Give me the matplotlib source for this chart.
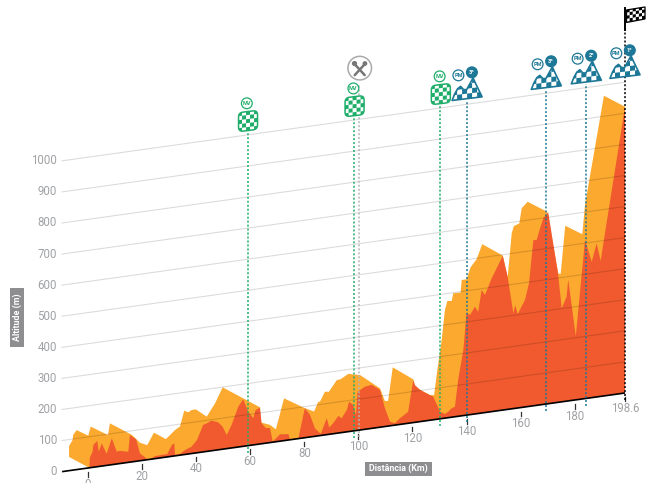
import matplotlib
matplotlib.use("Agg")
import numpy as np
from matplotlib import pyplot as plt
from matplotlib.patches import Circle, FancyBboxPatch, Polygon, Rectangle
from matplotlib.transforms import Affine2D

plt.rcParams['font.family'] = ['Roboto', 'DejaVu Sans']

# front profile (km, metres)
front_km = [0.5, 0.7, 1.7, 2.0, 3.4, 4.0, 5.1, 6.9, 8.8, 10.6, 11.8, 14.9, 15.5, 17.8, 19.2, 21.9, 22.9, 24.8, 27.3,
            29.3, 31.0, 31.9, 32.2, 34.0, 35.9, 38.3, 40.3, 42.6, 43.9, 45.7, 48.2, 49.8, 51.3, 53.1, 55.6, 57.4,
            59.3, 61.1, 62.0, 63.6, 64.2, 65.8, 67.3, 68.3, 71.0, 74.1, 74.7, 77.8, 80.2, 82.1, 83.9, 86.1, 88.3,
            89.2, 90.7, 92.6, 93.8, 95.7, 96.6, 98.1, 99.1, 99.7, 102.4, 104.9, 108.0, 109.8, 111.7, 113.5, 115.4,
            118.4, 120.3, 120.9, 122.8, 125.2, 127.7, 130.2, 132.0, 133.2, 134.5, 135.7, 136.9, 138.8, 140.0, 141.3,
            143.1, 144.3, 145.6, 146.8, 149.3, 153.4, 155.2, 157.3, 158.0, 158.9, 161.6, 163.1, 164.7, 165.9, 167.4,
            168.4, 170.2, 173.8, 175.2, 177.0, 177.6, 180.4, 183.8, 186.3, 188.1, 189.6, 190.8, 198.6]
front_alt = [0, 33, 50, 72, 83, 48, 73, 37, 85, 40, 41, 34, 87, 71, 24, 2, 0, 8, 9,
             9, 36, 41, 3, 4, 14, 22, 41, 87, 90, 97, 88, 72, 44, 74, 130, 151,
             109, 86, 111, 117, 66, 48, 47, 2, 22, 19, 2, 1, 95, 71, 26, 5, 53,
             22, 34, 55, 46, 70, 96, 83, 50, 124, 137, 140, 120, 59, 13, 6, 20,
             37, 137, 120, 102, 88, 74, 23, 13, 19, 29, 32, 117, 211, 328, 321,
             345, 327, 396, 378, 429, 496, 427, 307, 332, 302, 344, 396, 533, 532, 573,
             599, 616, 416, 301, 336, 390, 205, 510, 437, 494, 436, 502, 921]

# back layer, drawn behind and offset to the left
back_km = [-7.0, -7.0, -5.7, -5.5, -4.2, 0.1, 1.0, 7.4, 8.1, 16.2, 18.2, 19.2, 21.9, 24.4, 28.8, 32.2, 34.0, 35.6, 37.1,
           38.3, 39.9, 43.9, 47.0, 49.8, 63.6, 63.9, 67.3, 69.5, 72.5, 80.2, 83.6, 85.2, 85.8, 87.6, 89.1, 92.0, 93.4,
           96.3, 98.1, 100.6, 108.0, 109.8, 111.0, 112.7, 120.3, 120.9, 123.4, 126.5, 128.0, 129.2, 130.8, 132.0,
           132.9, 134.5, 135.1, 137.8, 138.2, 140.0, 141.5, 143.7, 145.8, 153.4, 155.2, 156.7, 157.5, 159.5, 160.4,
           162.6, 169.8, 173.9, 174.8, 176.5, 182.8, 183.8, 190.8, 198.6]
back_alt = [44, 79, 97, 113, 127, 104, 132, 97, 134, 87, 68, 58, 47, 84, 58, 83, 92, 141, 134,
            140, 140, 112, 151, 199, 118, 69, 57, 40, 136, 95, 80, 110, 109, 139, 137, 171, 172,
            186, 182, 177, 125, 82, 81, 187, 139, 115, 99, 81, 79, 158, 253, 348,
            376, 374, 398, 397, 437, 437, 474, 497, 543, 497, 425, 565, 587, 593, 641,
            659, 618, 415, 412, 565, 530, 623, 966, 921]

km_ticks = [0, 20, 40, 60, 80, 100, 120, 140, 160, 180, 198.6]
km_labels = ['0', '20', '40', '60', '80', '100', '120', '140', '160', '180', '198.6']
alt_ticks = [0, 100, 200, 300, 400, 500, 600, 700, 800, 900, 1000]

# points along the route
mv_km = [59.0, 98.4, 130.3]
meal_km = 100.3
pm_km = [140.2, 169.5, 184.3, 198.6]
pm_cat = ['3ª', '3ª', '2ª', '1ª']
finish_km = 198.6

GREEN = '#1fae6a'
BLUE = '#1d7797'
ORANGE = '#fba92f'
RED = '#f05a2e'
GREY = '#a0a2a5'

fig = plt.figure(figsize=(6.56, 4.83), dpi=100)
ax = fig.add_axes([0, 0, 1, 1])
ax.set_xlim(0, 656)
ax.set_ylim(483, 0)
ax.axis('off')

# oblique projection of (km, altitude) onto the page
skew = Affine2D.from_values(2.704, -0.3777, 0, -0.3108, 88, 468)
proj = skew + ax.transData
km_left = -9.6


def page(km, alt):
    return skew.transform((km, alt))


ax.fill(back_km + [198.6, 0.5], back_alt + [0, 0], color=ORANGE, lw=0, zorder=1, transform=proj)
ax.fill(front_km + [198.6], front_alt + [0], color=RED, lw=0, zorder=2, transform=proj)

for alt in alt_ticks[1:]:
    ax.plot([km_left, 198.6], [alt, alt], color='black', alpha=0.14, lw=0.8, zorder=3, transform=proj)
ax.plot([km_left, 198.6], [0, 0], color='black', lw=1.2, zorder=4, transform=proj, solid_capstyle='butt')

for alt in alt_ticks:
    x, y = page(km_left, alt)
    ax.text(x - 5, y, str(alt), ha='right', va='center', color=GREY, fontsize=8.3)

for km, label in zip(km_ticks, km_labels):
    x, y = page(km, 0)
    ax.plot([x, x], [y + 4, y + 8.5], color='#333333', lw=0.9, zorder=4)
    ax.text(x, y + 16, label, ha='center', va='center', color=GREY, fontsize=8.3)


def drop_line(km, top, color):
    ax.plot([km, km], [-23, top], color=color, lw=1.1, ls=(0, (1.3, 1.3)), zorder=5, transform=proj)


def sheared(cx, cy, s=-0.12):
    return Affine2D.from_values(1, s, 0, 1, cx, cy) + ax.transData


def checks(shape, trans, color, x0, x1, y0, y1, size, zorder=7):
    # squares clipped to the icon outline
    nx = int(np.ceil((x1 - x0) / size))
    ny = int(np.ceil((y1 - y0) / size))
    for i in range(nx):
        for j in range(ny):
            if (i + j) % 2 == 0:
                r = Rectangle((x0 + i * size, y0 + j * size), size, size, fc=color, lw=0, transform=trans, zorder=zorder)
                ax.add_patch(r)
                r.set_clip_path(shape)


def badge(x, y, text, color, filled=False):
    ax.add_patch(Circle((x, y), 5.4, fc=color if filled else 'white', ec=color, lw=0.9, zorder=8))
    ax.text(x, y, text, ha='center', va='center', color='white' if filled else color,
            fontsize=4, fontweight='bold', zorder=9)


for km in mv_km:
    drop_line(km, 1010, GREEN)
    x, y = page(km, 1010)
    trans = sheared(x + 0.5, y - 10.8)
    box = FancyBboxPatch((-9.5, -9.5), 19, 19, boxstyle='round,pad=0,rounding_size=4.5', fc='white', ec=GREEN,
                         lw=1.1, transform=trans, zorder=6)
    ax.add_patch(box)
    checks(box, trans, GREEN, -10, 10, -10, 10, 4)
    badge(x - 0.7, y - 28.5, 'MV', GREEN)

mountain = [(-15, 0), (-12.5, -6), (-9.5, -11), (-6.5, -13), (-3.5, -9.5), (-0.5, -9), (3, -15), (6, -20),
            (9, -13), (15, 0)]
for km, cat in zip(pm_km, pm_cat):
    drop_line(km, 1010 if km != finish_km else 1168, BLUE if km != finish_km else 'black')
    x, y = page(km, 1010)
    trans = sheared(x, y - 2.5)
    shape = Polygon(mountain, closed=True, fc='white', ec=BLUE, lw=1.2, joinstyle='round', transform=trans, zorder=6)
    ax.add_patch(shape)
    checks(shape, trans, BLUE, -15, 15, -20, 0, 5)
    badge(x - 8.7, y - 25.8, 'PM', BLUE)
    badge(x + 4.8, y - 28.8, cat, BLUE, filled=True)

# meal stop
drop_line(meal_km, 1110, '#b5b5b5')
x, y = page(meal_km, 1110)
mx, my = x + 0.5, y - 17
ax.add_patch(Circle((mx, my), 11.8, fc='white', ec='#aaaaaa', lw=1.1, zorder=6))
ax.plot([mx - 6, mx + 5], [my - 5, my + 7], color='#777777', lw=1.8, zorder=7, solid_capstyle='round')
ax.plot([mx + 6, mx - 5], [my - 5, my + 7], color='#777777', lw=1.8, zorder=7, solid_capstyle='round')
ax.add_patch(Circle((mx - 5.2, my - 4.6), 2.6, fc='#777777', lw=0, zorder=7))
ax.add_patch(Circle((mx + 5.2, my - 4.6), 2.4, fc='#777777', lw=0, zorder=7))

# finish flag
x, y = page(finish_km, 1168)
ax.plot([x, x], [y, y - 22], color='black', lw=1.4, zorder=7)
flag = Polygon([(x + 1.5, y - 20), (x + 20, y - 23), (x + 20, y - 11), (x + 1.5, y - 7.5)], closed=True,
               fc='white', ec='black', lw=0.9, zorder=6)
ax.add_patch(flag)
checks(flag, sheared(x + 1.5, y - 7.5, -0.17), 'black', 0, 21, -13, 0, 3.1)

# axis titles
ax.add_patch(Rectangle((10.3, 288), 14, 59, fc='#8e8e90', lw=0, zorder=6))
ax.text(17.3, 317.5, 'Altitude (m)', rotation=90, ha='center', va='center', color='white',
        fontsize=6.4, fontweight='bold', zorder=7)
ax.add_patch(Rectangle((365.3, 461.7), 67, 14, fc='#8e8e90', lw=0, zorder=6))
ax.text(398.8, 468.7, 'Distância (Km)', ha='center', va='center', color='white',
        fontsize=6.4, fontweight='bold', zorder=7)

fig.savefig('out.png', dpi=100)
